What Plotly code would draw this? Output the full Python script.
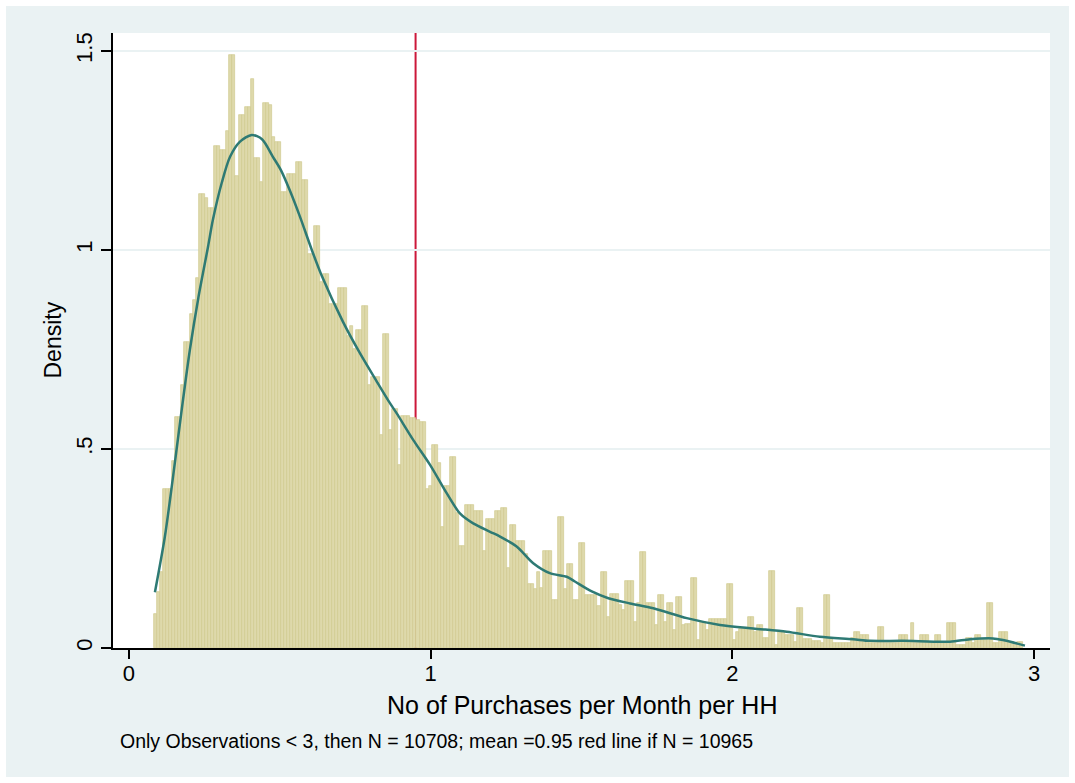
import plotly.graph_objects as go

# Histogram of purchases per month per household (bin width 0.01, starting at 0.083)
bin_start = 0.083
bin_width = 0.01
density = [
    0.085, 0.14, 0.19, 0.40, 0.40, 0.40, 0.47, 0.58, 0.58, 0.66,
    0.77, 0.77, 0.84, 0.875, 0.93, 1.14, 1.14, 1.13, 1.105, 1.105,
    1.26, 1.26, 1.25, 1.25, 1.30, 1.49, 1.49, 1.185, 1.34, 1.34,
    1.36, 1.36, 1.43, 1.23, 1.23, 1.17, 1.37, 1.37, 1.365, 1.285,
    1.27, 1.27, 1.145, 1.145, 1.19, 1.19, 1.19, 1.22, 1.22, 1.175,
    1.175, 0.99, 0.99, 1.06, 1.06, 0.92, 0.94, 0.94, 0.865, 0.865,
    0.865, 0.905, 0.905, 0.905, 0.785, 0.81, 0.75, 0.80, 0.80, 0.86,
    0.86, 0.66, 0.68, 0.68, 0.68, 0.535, 0.79, 0.79, 0.548, 0.60,
    0.60, 0.46, 0.583, 0.583, 0.583, 0.577, 0.577, 0.573, 0.569, 0.569,
    0.40, 0.407, 0.51, 0.51, 0.466, 0.305, 0.407, 0.407, 0.48, 0.48,
    0.338, 0.256, 0.256, 0.36, 0.36, 0.36, 0.345, 0.345, 0.345, 0.244,
    0.323, 0.323, 0.323, 0.344, 0.344, 0.351, 0.351, 0.20, 0.31, 0.31,
    0.27, 0.27, 0.27, 0.236, 0.16, 0.16, 0.147, 0.19, 0.152, 0.243,
    0.243, 0.243, 0.12, 0.12, 0.33, 0.33, 0.147, 0.21, 0.21, 0.12,
    0.12, 0.263, 0.263, 0.133, 0.133, 0.133, 0.133, 0.105, 0.19, 0.19,
    0.079, 0.135, 0.135, 0.135, 0.108, 0.095, 0.169, 0.169, 0.169, 0.066,
    0.112, 0.242, 0.242, 0.112, 0.112, 0.112, 0.058, 0.133, 0.133, 0.066,
    0.114, 0.114, 0.045, 0.127, 0.127, 0.058, 0.06, 0.06, 0.175, 0.175,
    0.02, 0.066, 0.066, 0.045, 0.073, 0.073, 0.073, 0.073, 0.073, 0.073,
    0.161, 0.161, 0.02, 0.039, 0.047, 0.047, 0.047, 0.079, 0.079, 0.041,
    0.059, 0.059, 0.026, 0.026, 0.194, 0.194, 0.008, 0.039, 0.039, 0.033,
    0.033, 0.033, 0.016, 0.10, 0.10, 0.022, 0.022, 0.022, 0.018, 0.018,
    0.018, 0.012, 0.133, 0.133, 0.022, 0.012, 0.012, 0.012, 0.012, 0.012,
    0.012, 0.024, 0.039, 0.039, 0.033, 0.033, 0.033, 0.012, 0.012, 0.012,
    0.052, 0.052, 0.012, 0.012, 0.012, 0.012, 0.012, 0.033, 0.033, 0.033,
    0.012, 0.064, 0.012, 0.012, 0.033, 0.033, 0.033, 0.012, 0.012, 0.033,
    0.033, 0.012, 0.012, 0.064, 0.064, 0.064, 0.008, 0.008, 0.008, 0.024,
    0.024, 0.012, 0.033, 0.033, 0.02, 0.02, 0.112, 0.112, 0.013, 0.013,
    0.039, 0.039, 0.039, 0.016, 0.016, 0.012, 0.016, 0.016,
]
bin_centers = [bin_start + bin_width * (i + 0.5) for i in range(len(density))]

# Kernel density estimate
kde_x = [0.086, 0.119, 0.146, 0.175, 0.202, 0.230, 0.262, 0.278, 0.308, 0.335,
         0.368, 0.407, 0.441, 0.477, 0.504, 0.534, 0.567, 0.606, 0.639, 0.709,
         0.766, 0.821, 0.865, 0.887, 0.942, 0.998, 1.053, 1.097, 1.141, 1.197,
         1.230, 1.285, 1.340, 1.395, 1.451, 1.478, 1.534, 1.589, 1.661, 1.738,
         1.849, 1.959, 2.069, 2.180, 2.290, 2.400, 2.456, 2.566, 2.721, 2.788,
         2.864, 2.897, 2.970]
kde_y = [0.14, 0.28, 0.43, 0.60, 0.75, 0.88, 1.008, 1.075, 1.17, 1.234,
         1.272, 1.289, 1.278, 1.234, 1.20, 1.148, 1.083, 1.000, 0.935, 0.82,
         0.74, 0.67, 0.615, 0.59, 0.523, 0.46, 0.389, 0.338, 0.313, 0.292,
         0.28, 0.255, 0.213, 0.188, 0.179, 0.167, 0.142, 0.125, 0.112, 0.10,
         0.075, 0.058, 0.049, 0.041, 0.028, 0.022, 0.018, 0.018, 0.016, 0.022,
         0.024, 0.02, 0.006]

mean_value = 0.95

x_ticks = [0, 1, 2, 3]
y_ticks = [0, 0.5, 1, 1.5]
y_tick_text = ["0", ".5", "1", "1.5"]

x_title = "No of Purchases per Month per HH"
y_title = "Density"
note = "Only Observations < 3, then N = 10708; mean =0.95 red line if N = 10965"

FONT = "Liberation Sans, Arial, sans-serif"
BG = "#EAF2F3"

fig = go.Figure()
fig.add_trace(go.Bar(
    x=bin_centers, y=density, width=bin_width,
    marker=dict(color="rgb(222,217,171)", line=dict(color="rgb(208,200,142)", width=0.7)),
    hoverinfo="skip",
))
fig.add_trace(go.Scatter(
    x=kde_x, y=kde_y, mode="lines",
    line=dict(color="rgb(46,122,116)", width=2.5, shape="spline", smoothing=0.8),
    hoverinfo="skip",
))

# outer panel and white plot region
fig.add_shape(type="rect", xref="paper", yref="paper",
              x0=-0.1142, x1=1.0203, y0=-0.2098, y1=1.0439,
              fillcolor=BG, line_width=0, layer="below")
fig.add_shape(type="rect", xref="paper", yref="paper",
              x0=0, x1=1, y0=0, y1=1,
              fillcolor="white", line_width=0, layer="below")
# mean line
fig.add_shape(type="line", xref="x", yref="paper",
              x0=mean_value, x1=mean_value, y0=0, y1=1,
              line=dict(color="rgb(204,24,58)", width=2), layer="below")

fig.update_layout(
    width=1075, height=783,
    margin=dict(l=113, r=25, t=33, b=135),
    paper_bgcolor="white", plot_bgcolor="white",
    showlegend=False, bargap=0,
    font=dict(family=FONT, color="black"),
    xaxis=dict(
        range=[-0.053, 3.053], tickvals=x_ticks,
        ticks="outside", ticklen=9, tickwidth=2, tickcolor="black",
        ticklabelstandoff=-4,
        showline=True, linecolor="black", linewidth=2,
        showgrid=False, zeroline=False,
        tickfont=dict(size=22, family=FONT),
    ),
    yaxis=dict(
        range=[0, 1.545], tickvals=y_ticks, ticktext=y_tick_text,
        tickangle=-90,
        ticks="outside", ticklen=10, tickwidth=2, tickcolor="black",
        showline=True, linecolor="black", linewidth=2,
        showgrid=True, gridcolor=BG, gridwidth=2, zeroline=False,
        tickfont=dict(size=22, family=FONT),
    ),
    annotations=[
        dict(text=x_title, xref="paper", yref="paper", x=0.5, y=-0.0927,
             xanchor="center", yanchor="middle", showarrow=False,
             font=dict(size=25, family=FONT)),
        dict(text=y_title, xref="paper", yref="paper", x=-0.0651, y=0.5,
             xanchor="center", yanchor="middle", textangle=-90, showarrow=False,
             font=dict(size=23, family=FONT)),
        dict(text=note, xref="paper", yref="paper", x=0.0053, y=-0.1515,
             xanchor="left", yanchor="middle", showarrow=False,
             font=dict(size=19.5, family=FONT)),
    ],
)

fig.write_html("out.html")
